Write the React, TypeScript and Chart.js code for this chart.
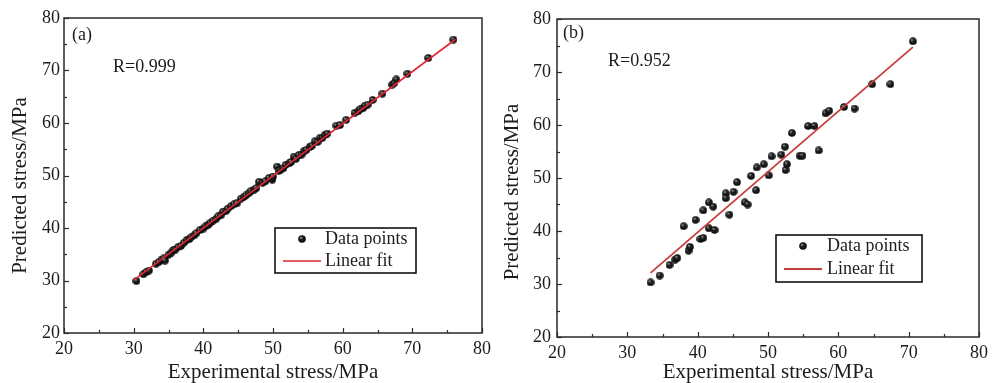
import React, { useEffect, useRef } from "react";
import { Chart, registerables } from "chart.js";

Chart.register(...registerables);

// ---------- data ----------
const aExp = [30.4, 31.4, 31.8, 32.2, 33.2, 33.6, 34.0, 34.3, 34.5, 35.0, 35.4, 35.7, 36.0, 36.4, 36.8, 37.2, 37.6, 38.0, 38.3, 38.7, 39.0, 39.5, 40.0, 40.3, 40.7, 41.0, 41.4, 41.8, 42.1, 42.5, 42.8, 43.2, 43.5, 44.0, 44.4, 44.8, 45.4, 45.8, 46.1, 46.5, 46.8, 47.3, 47.6, 48.0, 48.5, 48.9, 49.4, 49.9, 50.0, 50.6, 50.8, 51.1, 51.5, 51.8, 52.3, 52.6, 53.0, 53.3, 53.7, 54.1, 54.4, 54.8, 55.3, 55.6, 56.0, 56.4, 56.7, 57.1, 57.4, 57.8, 59.1, 59.6, 60.5, 61.7, 62.2, 62.5, 62.9, 63.2, 63.6, 64.3, 65.7, 67.1, 67.4, 67.7, 69.3, 72.3, 75.9];
const aPred = [29.9, 31.2, 31.6, 31.9, 33.2, 33.5, 34.0, 34.2, 33.8, 34.9, 35.3, 35.8, 35.9, 36.4, 36.6, 37.2, 37.7, 37.9, 38.3, 38.6, 39.0, 39.6, 39.9, 40.3, 40.6, 41.0, 41.4, 41.7, 42.2, 42.4, 43.1, 43.2, 43.7, 44.2, 44.5, 44.7, 45.6, 45.9, 46.2, 46.6, 47.0, 47.3, 47.6, 48.8, 48.6, 48.9, 49.5, 49.2, 49.8, 51.7, 50.9, 51.1, 51.4, 52.0, 52.3, 52.6, 53.6, 53.2, 53.9, 54.0, 54.6, 54.9, 55.5, 55.7, 56.5, 56.4, 57.1, 57.2, 57.7, 58.0, 59.5, 59.6, 60.6, 61.9, 62.2, 62.6, 62.8, 63.3, 63.5, 64.4, 65.6, 67.3, 67.6, 68.3, 69.4, 72.4, 75.9];

const bExp = [33.3, 34.6, 36.0, 36.8, 37.1, 38.0, 38.7, 38.9, 39.7, 40.4, 40.8, 40.8, 41.6, 42.2, 41.6, 42.4, 44.0, 44.0, 44.5, 45.1, 45.6, 46.7, 47.1, 47.6, 48.3, 48.4, 49.4, 50.1, 50.5, 51.9, 52.4, 52.5, 52.7, 53.4, 54.5, 54.9, 55.7, 56.6, 57.2, 58.2, 58.7, 60.8, 62.3, 64.8, 67.4, 70.6];
const bPred = [30.3, 31.6, 33.6, 34.6, 34.9, 40.9, 36.3, 37.0, 42.1, 38.5, 38.7, 43.9, 45.4, 44.6, 40.5, 40.2, 47.1, 46.2, 43.1, 47.4, 49.2, 45.4, 45.0, 50.4, 47.7, 52.0, 52.6, 50.5, 54.1, 54.4, 55.9, 51.5, 52.6, 58.5, 54.2, 54.2, 59.8, 59.8, 55.2, 62.2, 62.7, 63.4, 63.1, 67.7, 67.7, 75.8];

const aFitX = [30.1, 76.2];
const aFitY = [30.15, 75.95];
const bFitX = [33.3, 70.6];
const bFitY = [32.1, 74.7];

const axisMin = 20;
const axisMax = 80;
const axisStep = 10;

const xTitle = "Experimental stress/MPa";
const yTitle = "Predicted stress/MPa";
const legendLabels = ["Data points", "Linear fit"];
const panelTags = ["(a)", "(b)"];
const rTexts = ["R=0.999", "R=0.952"];

// ---------- styling ----------
const FONT = "'Liberation Serif', 'Times New Roman', Times, serif";
const TEXT = "#1c1c1c";
const FRAME = "#2a2a2a";

function makeDot(d: number): HTMLCanvasElement {
  const c = document.createElement("canvas");
  c.width = d;
  c.height = d;
  const g = c.getContext("2d")!;
  const r = d / 2;
  const grad = g.createRadialGradient(r * 0.7, r * 0.62, 0.2, r, r, r);
  grad.addColorStop(0, "#a0a0a0");
  grad.addColorStop(0.35, "#262626");
  grad.addColorStop(1, "#030303");
  g.fillStyle = grad;
  g.beginPath();
  g.arc(r, r, r - 0.2, 0, Math.PI * 2);
  g.fill();
  return c;
}

type PanelCfg = {
  exp: number[];
  pred: number[];
  fitX: number[];
  fitY: number[];
  tag: string;
  rText: string;
  lineColor: string;
  lineWidth: number;
  dot: number;
  width: number;
  yAxisWidth: number;
  xAxisHeight: number;
  padTop: number;
  padRight: number;
  yTickPad: number;
  xTickPad: number;
  yTitleX: number;
  yTitleShift: number;
  tagDx: number;
  tagDy: number;
  rDx: number;
  rDy: number;
  lg: { dx: number; dy: number; w: number; h: number; mDx: number; tDx: number; l0: number; l1: number; r1: number; r2: number };
};

function decorPlugin(p: PanelCfg, dotImg: HTMLCanvasElement) {
  return {
    id: "decor",
    afterDraw(chart: any) {
      const { ctx, chartArea: ca, scales } = chart;
      const xs = scales.x;
      const ys = scales.y;
      ctx.save();
      // inward ticks
      ctx.strokeStyle = FRAME;
      ctx.lineWidth = 1.2;
      for (let v = axisMin; v <= axisMax; v += axisStep / 2) {
        const major = Math.abs((v - axisMin) % axisStep) < 1e-6;
        const len = major ? 5 : 3;
        const px = Math.round(xs.getPixelForValue(v)) + 0.5;
        ctx.beginPath();
        ctx.moveTo(px, ca.bottom);
        ctx.lineTo(px, ca.bottom - len);
        ctx.stroke();
        const py = Math.round(ys.getPixelForValue(v)) + 0.5;
        ctx.beginPath();
        ctx.moveTo(ca.left, py);
        ctx.lineTo(ca.left + len, py);
        ctx.stroke();
      }
      // frame
      ctx.lineWidth = 1.5;
      ctx.strokeRect(ca.left, ca.top, ca.right - ca.left, ca.bottom - ca.top);

      // y title
      ctx.fillStyle = TEXT;
      ctx.font = `21px ${FONT}`;
      ctx.textAlign = "center";
      ctx.textBaseline = "middle";
      ctx.save();
      ctx.translate(p.yTitleX, (ca.top + ca.bottom) / 2 + p.yTitleShift);
      ctx.rotate(-Math.PI / 2);
      ctx.fillText(yTitle, 0, 0);
      ctx.restore();

      // tag and R
      ctx.font = `18px ${FONT}`;
      ctx.textAlign = "left";
      ctx.fillText(p.tag, ca.left + p.tagDx, ca.top + p.tagDy);
      ctx.fillText(p.rText, ca.left + p.rDx, ca.top + p.rDy);

      // legend
      const L = p.lg;
      const bx = ca.left + L.dx;
      const by = ca.top + L.dy;
      ctx.lineWidth = 1.6;
      ctx.strokeStyle = "#111";
      ctx.strokeRect(bx, by, L.w, L.h);
      ctx.drawImage(dotImg, bx + L.mDx - p.dot / 2, by + L.r1 - p.dot / 2);
      ctx.strokeStyle = p.lineColor;
      ctx.lineWidth = p.lineWidth;
      ctx.beginPath();
      ctx.moveTo(bx + L.l0, by + L.r2);
      ctx.lineTo(bx + L.l1, by + L.r2);
      ctx.stroke();
      ctx.fillStyle = TEXT;
      ctx.fillText(legendLabels[0], bx + L.tDx, by + L.r1);
      ctx.fillText(legendLabels[1], bx + L.tDx, by + L.r2);
      ctx.restore();
    },
  };
}

function Panel({ p, left }: { p: PanelCfg; left: number }) {
  const ref = useRef<HTMLCanvasElement | null>(null);
  useEffect(() => {
    if (!ref.current) return;
    const dotImg = makeDot(p.dot);
    const pts = p.exp.map((x, i) => ({ x, y: p.pred[i] }));
    const fit = p.fitX.map((x, i) => ({ x, y: p.fitY[i] }));
    const tickFont = { family: FONT, size: 18 };
    const chart = new Chart(ref.current, {
      type: "scatter",
      data: {
        datasets: [
          {
            type: "line",
            label: legendLabels[1],
            data: fit,
            borderColor: p.lineColor,
            borderWidth: p.lineWidth,
            pointRadius: 0,
            fill: false,
            tension: 0,
          } as any,
          {
            label: legendLabels[0],
            data: pts,
            pointStyle: dotImg as any,
            pointRadius: 4,
            backgroundColor: "#000",
            borderColor: "#000",
          },
        ],
      },
      options: {
        animation: false,
        responsive: false,
        maintainAspectRatio: false,
        events: [],
        layout: { padding: { left: 0, top: p.padTop, right: p.padRight, bottom: 0 } },
        plugins: { legend: { display: false }, tooltip: { enabled: false } },
        scales: {
          x: {
            type: "linear",
            min: axisMin,
            max: axisMax,
            grid: { display: false, drawTicks: false },
            border: { display: false },
            ticks: { stepSize: axisStep, color: TEXT, font: tickFont, padding: p.xTickPad, autoSkip: false, maxRotation: 0 },
            title: { display: true, text: xTitle, color: TEXT, font: { family: FONT, size: 21, lineHeight: 1 }, padding: { top: 0, bottom: 0 } },
            afterFit: (s: any) => {
              s.height = p.xAxisHeight;
            },
          },
          y: {
            type: "linear",
            min: axisMin,
            max: axisMax,
            grid: { display: false, drawTicks: false },
            border: { display: false },
            ticks: { stepSize: axisStep, color: TEXT, font: tickFont, padding: p.yTickPad, autoSkip: false },
            afterFit: (s: any) => {
              s.width = p.yAxisWidth;
            },
          },
        },
      },
      plugins: [decorPlugin(p, dotImg)],
    });
    return () => chart.destroy();
  }, [p]);
  return (
    <div style={{ position: "absolute", left, top: 0, width: p.width, height: 383 }}>
      <canvas ref={ref} width={p.width} height={383} style={{ display: "block" }} />
    </div>
  );
}

const panelA: PanelCfg = {
  exp: aExp,
  pred: aPred,
  fitX: aFitX,
  fitY: aFitY,
  tag: panelTags[0],
  rText: rTexts[0],
  lineColor: "#e0262c",
  lineWidth: 1.6,
  dot: 8,
  width: 496,
  yAxisWidth: 64,
  xAxisHeight: 50,
  padTop: 18,
  padRight: 9,
  yTickPad: 4,
  xTickPad: 5,
  yTitleX: 20,
  yTitleShift: 10,
  tagDx: 8,
  tagDy: 17,
  rDx: 49,
  rDy: 49,
  lg: { dx: 211, dy: 210, w: 141, h: 45, mDx: 27, tDx: 50, l0: 8, l1: 46, r1: 11, r2: 33 },
};

const panelB: PanelCfg = {
  exp: bExp,
  pred: bPred,
  fitX: bFitX,
  fitY: bFitY,
  tag: panelTags[1],
  rText: rTexts[1],
  lineColor: "#c93c3a",
  lineWidth: 1.8,
  dot: 8,
  width: 497,
  yAxisWidth: 61,
  xAxisHeight: 46,
  padTop: 19,
  padRight: 10,
  yTickPad: 6,
  xTickPad: 5,
  yTitleX: 16,
  yTitleShift: 14,
  tagDx: 6,
  tagDy: 14,
  rDx: 51,
  rDy: 42,
  lg: { dx: 219, dy: 216, w: 146, h: 47, mDx: 27, tDx: 51, l0: 8, l1: 46, r1: 11, r2: 34 },
};

export default function App() {
  return (
    <div style={{ position: "absolute", left: 0, top: 0, width: 993, height: 383, background: "#fff", overflow: "hidden" }}>
      <Panel p={panelA} left={0} />
      <Panel p={panelB} left={496} />
    </div>
  );
}
